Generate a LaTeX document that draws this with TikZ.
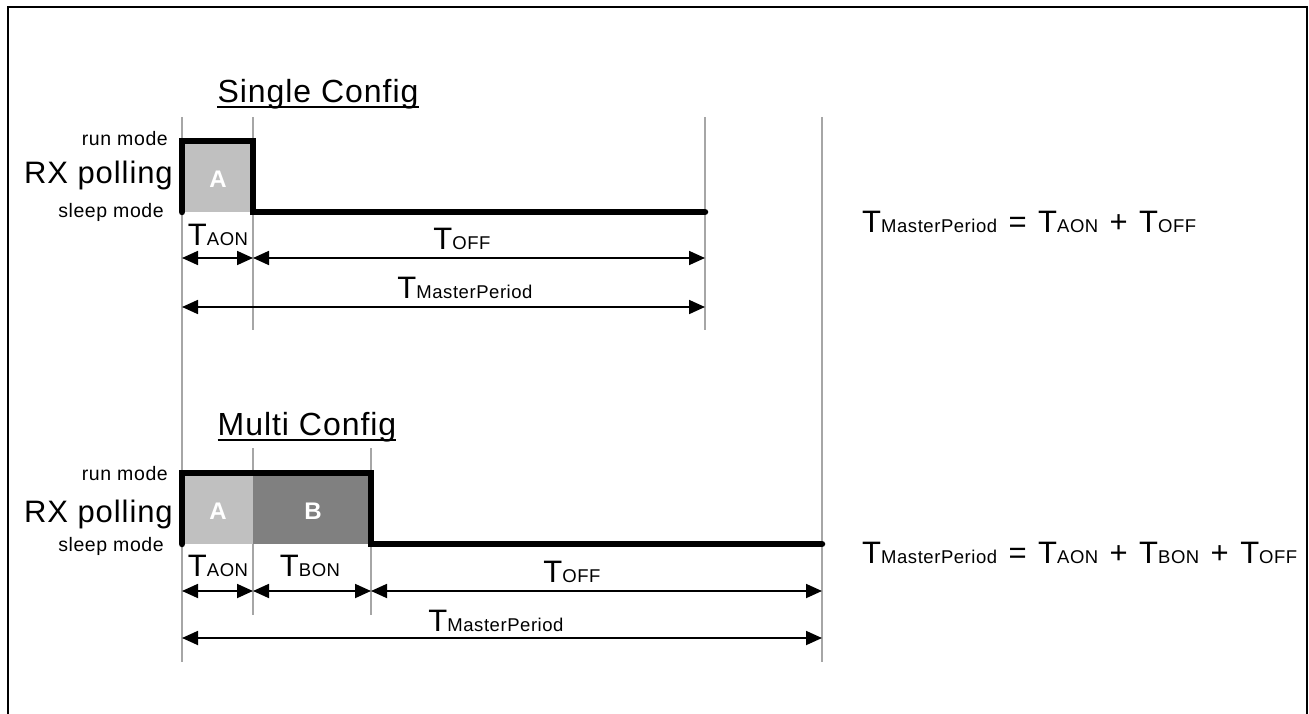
\documentclass[tikz,border=0pt]{standalone}
\usepackage{fontspec}
\setmainfont{Liberation Sans}[LetterSpace=3]
\usetikzlibrary{arrows.meta}
\definecolor{guidegray}{HTML}{A6A6A6}
\definecolor{fillA}{HTML}{C0C0C0}
\definecolor{fillB}{HTML}{808080}
\newcommand{\tsub}[1]{{\fontsize{31}{31}\selectfont T}{\fontsize{18.5}{18.5}\selectfont #1}}
\newcommand{\bigfnt}{\fontsize{31}{31}\selectfont}
\newcommand{\titlefnt}{\fontsize{32}{32}\selectfont}
\newcommand{\modefnt}{\fontsize{19.5}{19.5}\selectfont}
\newcommand{\boxfnt}{\fontsize{24}{24}\selectfont\bfseries}
\tikzset{
  frame/.style={line width=2.5pt},
  guide/.style={draw=guidegray, line width=1.5pt},
  signal/.style={line width=6.5pt, line cap=round, line join=miter},
  dim/.style={line width=1.8pt, {Triangle[length=16pt,width=14pt]}-{Triangle[length=16pt,width=14pt]}},
  lbl/.style={inner sep=0pt, anchor=base},
  lblw/.style={inner sep=0pt, anchor=base west},
  lble/.style={inner sep=0pt, anchor=base east},
  boxlbl/.style={inner sep=0pt, anchor=base, text=white, font=\boxfnt},
  uline/.style={line width=1.6pt},
  eqnext/.style={inner sep=0pt, anchor=base west, xshift=11pt}
}
\begin{document}
\begin{tikzpicture}[x=1pt,y=-1pt]
\useasboundingbox (0,0) rectangle (1309,714);
\draw[frame] (8,714) -- (8,7) -- (1307,7) -- (1307,714);

% guide lines
\draw[guide] (182,117) -- (182,662);
\draw[guide] (253,117) -- (253,330);
\draw[guide] (705,117) -- (705,330);
\draw[guide] (822,117) -- (822,662);
\draw[guide] (253,448) -- (253,615);
\draw[guide] (371,448) -- (371,615);

% ---------- Single Config ----------
\node[lbl, font=\titlefnt] (stitle) at (318,103) {Single Config};
\draw[uline] ([yshift=-4pt]stitle.base west) -- ([yshift=-4pt]stitle.base east);

\fill[fillA] (182,141) rectangle (253,212);
\node[boxlbl] (sA) at (218,188) {A};
\draw[signal] (182,212) -- (182,141) -- (253,141) -- (253,212) -- (705,212);

\node[lble, font=\modefnt] (srun) at (168,146) {run mode};
\node[lble, font=\bigfnt] (srx) at (173,184) {RX polling};
\node[lble, font=\modefnt] (ssleep) at (164,218) {sleep mode};

\coordinate (sa0) at (182,258);
\coordinate (sa1) at (253,258);
\coordinate (sa2) at (705,258);
\coordinate (sm0) at (182,307);
\coordinate (sm2) at (705,307);
\draw[dim] (sa0) -- (sa1);
\draw[dim] (sa1) -- (sa2);
\draw[dim] (sm0) -- (sm2);
\node[lbl] (saon) at (218,246) {\tsub{AON}};
\node[lbl] (soff) at (462,250) {\tsub{OFF}};
\node[lbl] (smp) at (465,298) {\tsub{MasterPeriod}};

\node[lblw] (se1) at (862,233) {\tsub{MasterPeriod}};
\node[eqnext, font=\bigfnt] (se2) at (se1.base east) {=};
\node[eqnext] (se3) at (se2.base east) {\tsub{AON}};
\node[eqnext, font=\bigfnt] (se4) at (se3.base east) {+};
\node[eqnext] (se5) at (se4.base east) {\tsub{OFF}};

% ---------- Multi Config ----------
\node[lbl, font=\titlefnt] (mtitle) at (307,435) {Multi Config};
\draw[uline] ([yshift=-5pt]mtitle.base west) -- ([yshift=-5pt]mtitle.base east);

\fill[fillA] (182,473) rectangle (253,544);
\fill[fillB] (253,473) rectangle (371,544);
\node[boxlbl] (mA) at (218,519) {A};
\node[boxlbl] (mB) at (313,519) {B};
\draw[signal] (182,544) -- (182,473) -- (371,473) -- (371,544) -- (822,544);

\node[lble, font=\modefnt] (mrun) at (168,480) {run mode};
\node[lble, font=\bigfnt] (mrx) at (173,522) {RX polling};
\node[lble, font=\modefnt] (msleep) at (164,551) {sleep mode};

\coordinate (ma0) at (182,591);
\coordinate (ma1) at (253,591);
\coordinate (ma2) at (371,591);
\coordinate (ma3) at (822,591);
\coordinate (mm0) at (182,638);
\coordinate (mm3) at (822,638);
\draw[dim] (ma0) -- (ma1);
\draw[dim] (ma1) -- (ma2);
\draw[dim] (ma2) -- (ma3);
\draw[dim] (mm0) -- (mm3);
\node[lbl] (maon) at (218,576) {\tsub{AON}};
\node[lbl] (mbon) at (310,576) {\tsub{BON}};
\node[lbl] (moff) at (572,582) {\tsub{OFF}};
\node[lbl] (mmp) at (496,631) {\tsub{MasterPeriod}};

\node[lblw] (me1) at (862,563) {\tsub{MasterPeriod}};
\node[eqnext, font=\bigfnt] (me2) at (me1.base east) {=};
\node[eqnext] (me3) at (me2.base east) {\tsub{AON}};
\node[eqnext, font=\bigfnt] (me4) at (me3.base east) {+};
\node[eqnext] (me5) at (me4.base east) {\tsub{BON}};
\node[eqnext, font=\bigfnt] (me6) at (me5.base east) {+};
\node[eqnext] (me7) at (me6.base east) {\tsub{OFF}};
\end{tikzpicture}
\end{document}
